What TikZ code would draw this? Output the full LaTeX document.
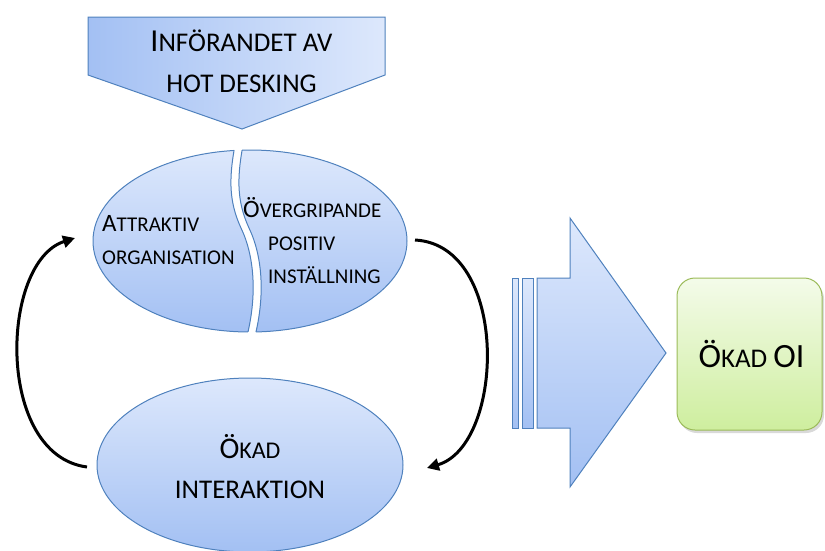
\documentclass[tikz,border=0pt]{standalone}
\usepackage{fontspec}
\setmainfont{Carlito}
\usetikzlibrary{arrows.meta,shadows}
\definecolor{bord}{RGB}{79,129,189}
\definecolor{blight}{RGB}{221,232,252}
\definecolor{bdark}{RGB}{163,192,243}
\definecolor{gbord}{RGB}{155,187,89}
\definecolor{glight}{RGB}{244,251,234}
\definecolor{gdark}{RGB}{206,238,158}
\newcommand\fsb[2]{\fontsize{#1}{#2}\selectfont}
\begin{document}
\begin{tikzpicture}[x=1pt,y=-1pt,
  blueshape/.style={draw=bord, line width=1pt, top color=blight, bottom color=bdark},
  bluehshape/.style={draw=bord, line width=1pt, left color=bdark, right color=blight},
  greenbox/.style={draw=gbord, line width=1pt, top color=glight, bottom color=gdark,
     rounded corners=18pt, minimum width=145pt, minimum height=152pt, inner sep=0pt,
     drop shadow={opacity=0.3, shadow xshift=2pt, shadow yshift=-3pt}},
  lbl/.style={inner sep=0pt},
  loopar/.style={line width=3pt, -{Triangle[length=12pt,width=12pt]}}]
\useasboundingbox (0,0) rectangle (825,550);

% top down arrow
\path[bluehshape] (88,17) -- (385,17) -- (385,75) -- (242,129) -- (88,75) -- cycle;
\node[lbl, align=center, font=\fsb{27}{41}, anchor=base] (intro) at (241.5,92)
  {{\fsb{32}{41}I}NFÖRANDET AV\\HOT DESKING};

% split ellipse, left piece
\begin{scope}
  \clip (237,120) -- (236,140) .. controls (229,175) and (228,200) .. (241,228)
        .. controls (254,255) and (258,295) .. (246,340) -- (245,360) -- (0,360) -- (0,120) -- cycle;
  \path[blueshape] (250,241) ellipse [x radius=157, y radius=91];
\end{scope}
% right piece
\begin{scope}
  \clip (245,120) -- (244,140) .. controls (237,175) and (236,200) .. (249,228)
        .. controls (262,255) and (266,295) .. (254,340) -- (253,360) -- (500,360) -- (500,120) -- cycle;
  \path[blueshape] (250,241) ellipse [x radius=157, y radius=91];
\end{scope}
\begin{scope}
  \clip (250,241) ellipse [x radius=157, y radius=91];
  \draw[bord, line width=1pt] (236,140) .. controls (229,175) and (228,200) .. (241,228)
        .. controls (254,255) and (258,295) .. (246,340);
  \draw[bord, line width=1pt] (244,140) .. controls (237,175) and (236,200) .. (249,228)
        .. controls (262,255) and (266,295) .. (254,340);
\end{scope}
\node[lbl, align=left, font=\fsb{21}{33}, anchor=base west] (attr) at (102,264)
  {{\fsb{25}{33}A}TTRAKTIV\\ORGANISATION};
\node[lbl, align=left, font=\fsb{21}{33}, anchor=base west] (overg) at (243,283)
  {{\fsb{25}{33}Ö}VERGRIPANDE\\\hspace*{25pt}POSITIV\\\hspace*{25pt}INSTÄLLNING};

% bottom ellipse
\path[blueshape] (250,465) ellipse [x radius=153, y radius=87];
\node[lbl, align=center, font=\fsb{27}{40}, anchor=base] (okad) at (250,498)
  {{\fsb{30}{40}Ö}{\fsb{24}{40}KAD}\\INTERAKTION};

% big right arrow with bars
\path[blueshape] (512.7,278) rectangle (518.3,428);
\path[blueshape] (522,278) rectangle (533,428);
\path[blueshape] (537,278) -- (570,278) -- (570,218) -- (666,353) -- (570,487)
  -- (570,428) -- (537,428) -- cycle;

% green result box
\node[greenbox, font=\fsb{27}{27}] (oi) at (749.5,354)
  {\hspace*{4pt}{\fsb{34}{34}Ö}KAD {\fsb{34}{34}OI}};

% loop arrows
\coordinate (lstart) at (87,467);
\coordinate (lend) at (75,238);
\coordinate (rstart) at (415,240);
\coordinate (rend) at (427,468);
\draw[loopar] (lstart) .. controls (-5,455) and (0,262) .. (lend);
\draw[loopar] (rstart) .. controls (510,245) and (505,445) .. (rend);
\end{tikzpicture}
\end{document}
